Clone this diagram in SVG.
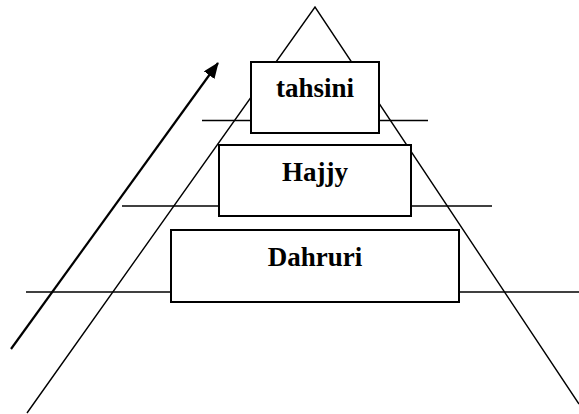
<svg xmlns="http://www.w3.org/2000/svg" width="579" height="414" viewBox="0 0 579 414">
  <style>
    .ln { stroke: #000; stroke-width: 1.5; fill: none; }
    .leg { stroke: #000; stroke-width: 1.4; fill: none; }
    .box { fill: #fff; stroke: #000; stroke-width: 2; }
    .lbl { font-family: "Liberation Serif", "Times New Roman", serif; font-weight: bold; font-size: 27px; text-anchor: middle; fill: #000; }
  </style>
  <defs>
    <marker id="ah" markerWidth="16" markerHeight="13" refX="15" refY="6.5" orient="auto" markerUnits="userSpaceOnUse" viewBox="0 0 16 13">
      <path d="M0,0 L16,6.5 L0,13 z" fill="#000"/>
    </marker>
  </defs>
  <rect width="579" height="414" fill="#fff"/>
  <g id="levels">
    <line class="ln" x1="202" y1="120.5" x2="428" y2="120.5"/>
    <line class="ln" x1="122" y1="206" x2="492" y2="206"/>
    <line class="ln" x1="26" y1="292" x2="579" y2="292"/>
  </g>
  <g id="pyramid">
    <polyline class="leg" points="27,413 315,7 579,404"/>
  </g>
  <g id="connectors">
    <line x1="11" y1="349" x2="218" y2="63" stroke="#000" stroke-width="2.2" marker-end="url(#ah)"/>
  </g>
  <g id="node-dahruri">
    <rect class="box" x="171" y="230" width="288" height="72"/>
    <text class="lbl" x="315" y="266">Dahruri</text>
  </g>
  <g id="node-hajjy">
    <rect class="box" x="219" y="145" width="192" height="71"/>
    <text class="lbl" x="315" y="180.5">Hajjy</text>
  </g>
  <g id="node-tahsini">
    <rect class="box" x="251" y="62" width="128" height="71"/>
    <text class="lbl" x="315" y="96.5">tahsini</text>
  </g>
</svg>
